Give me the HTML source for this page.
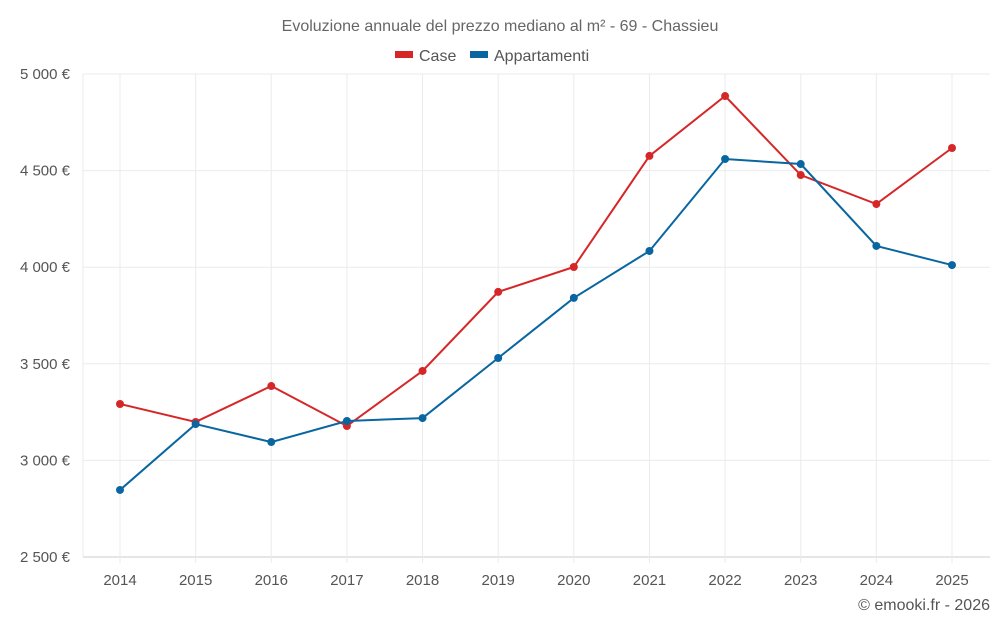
<!DOCTYPE html>
<html><head><meta charset="utf-8">
<style>
html,body{margin:0;padding:0;background:#fff;}
svg{display:block;font-family:"Liberation Sans",Roboto,sans-serif;}
</style></head>
<body>
<svg id="chart" width="1000" height="625" viewBox="0 0 1000 625">
<text x="500" y="31" text-anchor="middle" font-size="16" fill="#666">Evoluzione annuale del prezzo mediano al m² - 69 - Chassieu</text>
<g>
 <g><rect x="395" y="51" width="18" height="7" fill="#d62728"/><text x="419" y="61" font-size="16" fill="#555">Case</text></g>
 <g><rect x="470" y="51" width="18" height="7" fill="#0a66a0"/><text x="494" y="61" font-size="16" fill="#555">Appartamenti</text></g>
</g>
<g id="grid"></g><g id="axes"></g><g id="series"></g>
<text x="990" y="610" text-anchor="end" font-size="16" fill="#555">© emooki.fr - 2026</text>
</svg>
<script>
const years=["2014","2015","2016","2017","2018","2019","2020","2021","2022","2023","2024","2025"];
const caseValues=[3292,3199,3385,3178,3463,3872,4001,4576,4886,4477,4327,4617];
const appValues=[2847,3188,3095,3204,3219,3530,3841,4084,4560,4534,4110,4011];
const yTicks=[2500,3000,3500,4000,4500,5000];
const yTickLabels=["2 500 €","3 000 €","3 500 €","4 000 €","4 500 €","5 000 €"];
const NS="http://www.w3.org/2000/svg";
const L=83,R=990,T=74,B=557,yMin=2500,yMax=5000;
const x=i=>120+i*(952-120)/(years.length-1);
const y=v=>B-(v-yMin)/(yMax-yMin)*(B-T);
function mk(tag,attrs,parent){const e=document.createElementNS(NS,tag);for(const k in attrs)e.setAttribute(k,attrs[k]);parent.appendChild(e);return e;}
const grid=document.getElementById('grid'),axes=document.getElementById('axes'),ser=document.getElementById('series');
yTicks.forEach((t,i)=>{
 const l=mk('line',{x1:L,x2:R,y1:y(t),y2:y(t),stroke:i==0?'#ccc':'#ebebeb','stroke-width':1},grid);
 
 
 const tx=mk('text',{x:70,y:y(t)+5,'text-anchor':'end','font-size':15,fill:'#555'},axes);tx.textContent=yTickLabels[i];
 
 
});
const la=mk('line',{x1:L,x2:L,y1:T,y2:B,stroke:'#ebebeb'},grid);


years.forEach((yr,i)=>{
 const l=mk('line',{x1:x(i),x2:x(i),y1:T,y2:B+6,stroke:'#ebebeb'},grid);
 
 
 const tx=mk('text',{x:x(i),y:585,'text-anchor':'middle','font-size':15,fill:'#555'},axes);tx.textContent=yr;
 
 
});
function draw(vals,color,name){
 const p=mk('polyline',{points:vals.map((v,i)=>x(i)+','+y(v)).join(' '),fill:'none',stroke:color,'stroke-width':2},ser);
 
 
 vals.forEach((v,i)=>{
  const c=mk('circle',{cx:x(i),cy:y(v),r:4,fill:color},ser);
  
  
 });
}
draw(caseValues,'#d62728','case');
draw(appValues,'#0a66a0','appartamenti');
</script>
</body></html>
